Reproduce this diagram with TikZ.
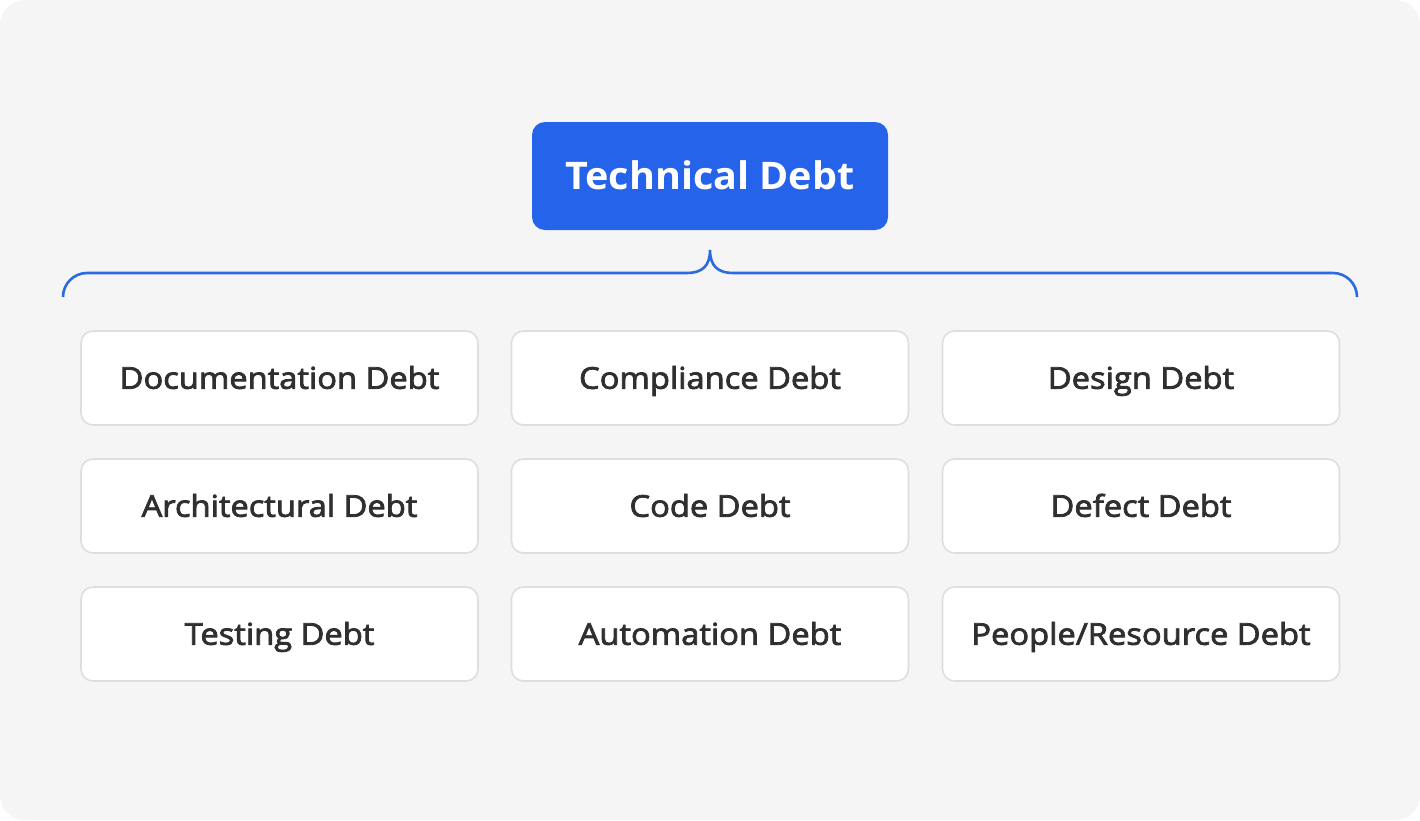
\documentclass[tikz,border=0pt]{standalone}
\usepackage{fontspec}
\setmainfont{Open Sans}
\newfontfamily\itemfont[FakeBold=2.6, FakeStretch=1.09]{Open Sans}
\newfontfamily\titlefont[FakeStretch=1.04]{Open Sans}
\definecolor{bg}{HTML}{F5F5F5}
\definecolor{blu}{HTML}{2563EB}
\definecolor{brc}{HTML}{2B6AE0}
\definecolor{bord}{HTML}{DEDEDE}
\definecolor{txt}{HTML}{2F2F2F}
\tikzset{
  item/.style={draw=bord, line width=1.6pt, fill=white, rounded corners=12pt,
    minimum width=397pt, minimum height=94pt, inner sep=0pt, text=txt,
    text height=21.5pt, text depth=0pt,
    font=\itemfont\fontsize{30}{36}\selectfont},
  titlebox/.style={fill=blu, rounded corners=13pt, minimum width=356pt,
    minimum height=108pt, inner sep=0pt, text=white,
    text height=27pt, text depth=0pt,
    font=\titlefont\fontsize{38}{44}\selectfont\bfseries},
  brace/.style={draw=brc, line width=2.6pt}
}
\begin{document}
\begin{tikzpicture}[x=1pt,y=-1pt]
\useasboundingbox (0,0) rectangle (1420,820);
\fill[white] (0,0) rectangle (1420,820);
\fill[bg, rounded corners=25pt] (0,0) rectangle (1420,820);
\node[titlebox] (title) at (710,176) {Technical Debt};
\coordinate (bl) at (63,297);
\coordinate (tip) at (710,250);
\coordinate (br) at (1357,297);
\draw[brace] (bl) arc[start angle=180,end angle=270,radius=24] -- (687,273)
  .. controls (702,273) and (710,266) .. (tip)
  .. controls (710,266) and (718,273) .. (733,273) -- (1333,273)
  arc[start angle=270,end angle=360,radius=24];
\node[item] (doc) at (279.5,378) {Documentation Debt};
\node[item] (comp) at (710,378) {Compliance Debt};
\node[item] (des) at (1141,378) {Design Debt};
\node[item] (arch) at (279.5,506) {Architectural Debt};
\node[item] (code) at (710,506) {Code Debt};
\node[item] (def) at (1141,506) {Defect Debt};
\node[item] (test) at (279.5,634) {Testing Debt};
\node[item] (auto) at (710,634) {Automation Debt};
\node[item] (peop) at (1141,634) {People/Resource Debt};
\end{tikzpicture}
\end{document}
